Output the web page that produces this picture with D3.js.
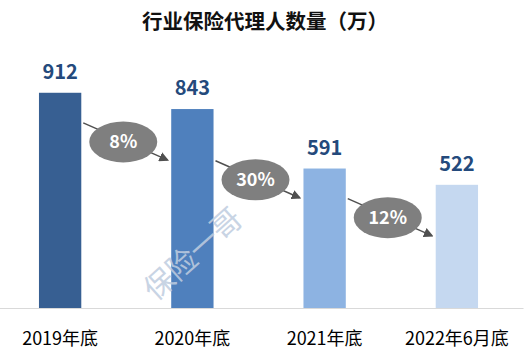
<!DOCTYPE html>
<html>
<head>
<meta charset="utf-8">
<script src="https://cdn.jsdelivr.net/npm/d3@7"></script>
<style>
  body { margin: 0; background: #fff; }
  svg { display: block; font-family: "Noto Sans CJK SC", "Noto Sans", sans-serif; }
</style>
</head>
<body>
<svg width="526" height="351"></svg>
<script>
// data
const categories = ["2019年底", "2020年底", "2021年底", "2022年6月底"];
const agents = [912, 843, 591, 522];
const declines = ["8%", "30%", "12%"];
const title = "行业保险代理人数量（万）";

const svg = d3.select("svg");

// scales
const x = d3.scaleBand()
    .domain(categories)
    .range([-6, 523])
    .paddingInner(0.68)
    .paddingOuter(0.34);

const y = d3.scaleLinear()
    .domain([0, 1000])
    .range([308, 72]);

const color = d3.scaleOrdinal()
    .domain(categories)
    .range(["#375f92", "#4f80bd", "#8db3e2", "#c5d8f0"]);

// title
svg.append("text")
    .attr("x", 265)
    .attr("y", 29)
    .attr("text-anchor", "middle")
    .style("font-size", "20.5px")
    .style("font-weight", "bold")
    .style("fill", "#111")
    .text(title);

// bars
svg.selectAll(".bar")
    .data(agents)
    .enter().append("rect")
    .attr("class", "bar")
    .attr("x", (d, i) => x(categories[i]))
    .attr("y", d => y(d))
    .attr("width", x.bandwidth())
    .attr("height", d => y(0) - y(d))
    .style("fill", (d, i) => color(categories[i]));

// value labels
svg.selectAll(".value")
    .data(agents)
    .enter().append("text")
    .attr("class", "value")
    .attr("x", (d, i) => x(categories[i]) + x.bandwidth() / 2)
    .attr("y", d => y(d) - 14)
    .attr("text-anchor", "middle")
    .style("font-size", "20px")
    .style("font-weight", "bold")
    .style("fill", "#244a7c")
    .text(d => d);

// x axis
const axis = svg.append("g")
    .attr("transform", "translate(0," + y(0) + ")")
    .call(d3.axisBottom(x).tickSize(0).tickSizeOuter(0).tickPadding(24));
axis.select(".domain").attr("stroke", "#d9d9d9");
axis.selectAll("text")
    .style("font-size", "18px")
    .style("fill", "#000")
    .style("font-family", "\"Noto Sans CJK SC\", sans-serif");

// arrow marker
svg.append("defs").append("marker")
    .attr("id", "head")
    .attr("viewBox", "0 0 10 10")
    .attr("refX", 8)
    .attr("refY", 5)
    .attr("markerWidth", 6.5)
    .attr("markerHeight", 6.5)
    .attr("orient", "auto")
    .append("path")
    .attr("d", "M0,0L10,5L0,10z")
    .style("fill", "#505050");

// decline callouts between bars
const callouts = declines.map((label, i) => {
    const cx = x(categories[i]) + x.bandwidth() / 2 + x.step() / 2;
    const cy = (y(agents[i]) + y(agents[i + 1])) / 2 + 41;
    return { label: label, cx: cx, cy: cy };
});

svg.selectAll(".arrow")
    .data(callouts)
    .enter().append("line")
    .attr("class", "arrow")
    .attr("x1", d => d.cx - 43)
    .attr("y1", d => d.cy - 19)
    .attr("x2", d => d.cx + 41)
    .attr("y2", d => d.cy + 18)
    .attr("stroke", "#505050")
    .attr("stroke-width", 1.5)
    .attr("marker-end", "url(#head)");

svg.selectAll(".bubble")
    .data(callouts)
    .enter().append("ellipse")
    .attr("class", "bubble")
    .attr("cx", d => d.cx - 3)
    .attr("cy", d => d.cy)
    .attr("rx", 34)
    .attr("ry", 20.5)
    .style("fill", "#7f7f7f");

svg.selectAll(".pct")
    .data(callouts)
    .enter().append("text")
    .attr("class", "pct")
    .attr("x", d => d.cx - 3)
    .attr("y", d => d.cy + 6)
    .attr("text-anchor", "middle")
    .style("font-size", "18px")
    .style("font-weight", "bold")
    .style("fill", "#fff")
    .text(d => d.label);

// watermark
svg.append("text")
    .attr("transform", "translate(193,254) rotate(-42)")
    .attr("text-anchor", "middle")
    .attr("dy", "0.35em")
    .style("font-size", "30px")
    .style("fill", "#bfcde0")
    .style("opacity", 0.85)
    .text("保险一哥");
</script>
</body>
</html>
